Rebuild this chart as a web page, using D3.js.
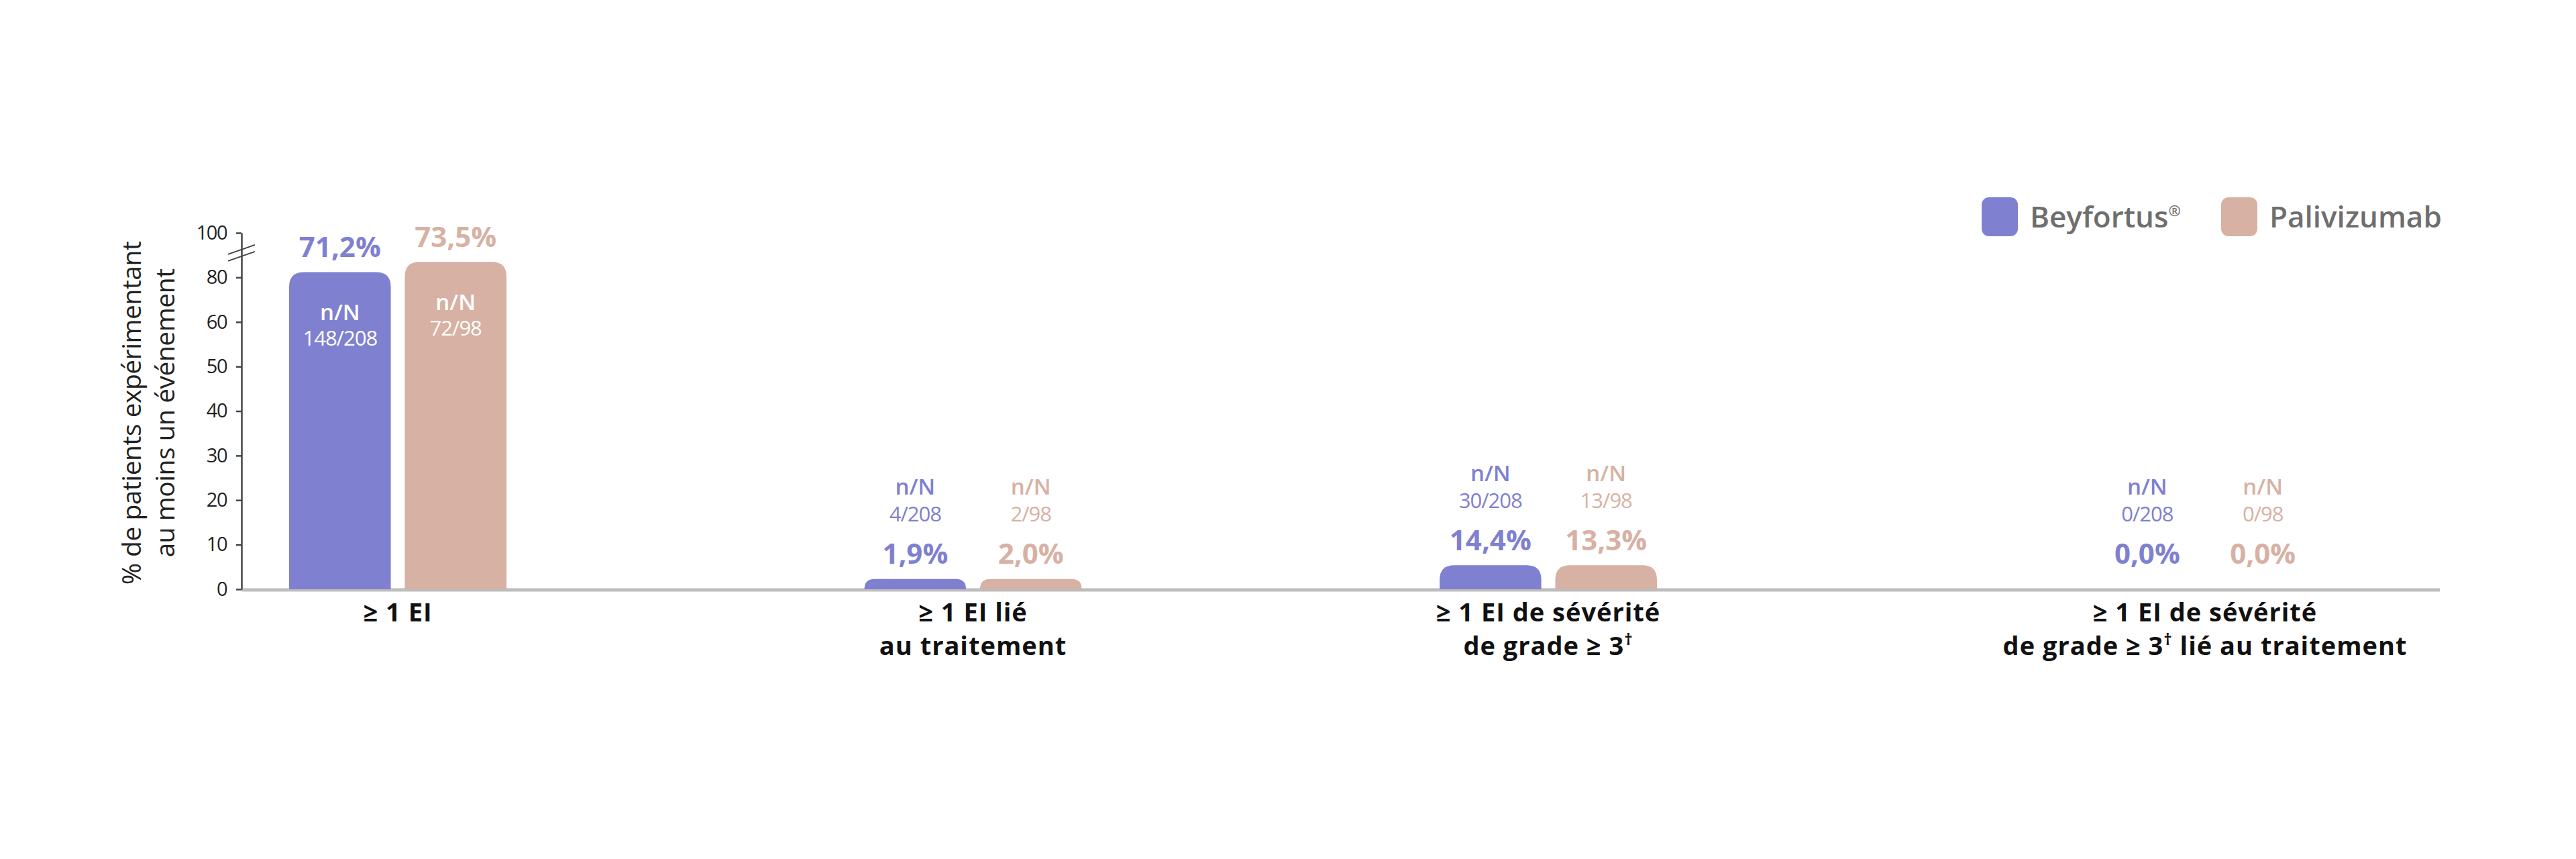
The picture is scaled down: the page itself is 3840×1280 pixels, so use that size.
<!DOCTYPE html>
<html>
<head>
<meta charset="utf-8">
<script src="https://cdn.jsdelivr.net/npm/d3@7"></script>
<style>
  html, body { margin: 0; padding: 0; background: #fff; }
  svg { display: block; font-family: "Open Sans", "Noto Sans", sans-serif; }
</style>
</head>
<body>
<svg id="chart"></svg>
<script>
// données
const categories = ["ei", "eiLie", "eiGrade3", "eiGrade3Lie"];
const categoryLabels = [
  ["≥ 1 EI"],
  ["≥ 1 EI lié", "au traitement"],
  ["≥ 1 EI de sévérité", "de grade ≥ 3†"],
  ["≥ 1 EI de sévérité", "de grade ≥ 3† lié au traitement"]
];
const series = ["Beyfortus", "Palivizumab"];
const seriesLabels = ["Beyfortus®", "Palivizumab"];
const beyfortusPct = [71.2, 1.9, 14.4, 0.0];
const palivizumabPct = [73.5, 2.0, 13.3, 0.0];
// hauteur des barres telle que dessinée sur la figure
const beyfortusBar = [71.2, 2.3, 5.4, 0];
const palivizumabBar = [73.5, 2.3, 5.4, 0];
const beyfortusN = ["148/208", "4/208", "30/208", "0/208"];
const palivizumabN = ["72/98", "2/98", "13/98", "0/98"];
const yTickValues = [0, 10, 20, 30, 40, 50, 60, 70, 80];
const yTickLabels = ["0", "10", "20", "30", "40", "50", "60", "80", "100"];
const yTitle = ["% de patients expérimentant", "au moins un événement"];

const colors = { Beyfortus: "#7f80d0", Palivizumab: "#d7b1a3" };

const W = 3840, H = 1280;
const axisX = 360, axisEnd = 3637;
const baseY = 878, topY = 347;

const svg = d3.select("#chart").attr("width", W).attr("height", H);

const fr = d3.formatLocale({ decimal: ",", thousands: " ", grouping: [3], currency: ["", "€"] });
const fmtPct = v => fr.format(".1f")(v) + "%";

// échelles
const y = d3.scaleLinear().domain([0, 80]).range([baseY, topY]);
const groupX = d3.scaleLinear().domain([0, 2, 3]).range([593, 2308, 3287]);
const inner = d3.scaleBand().domain(series).range([-162, 162]).paddingInner(0.121);

const rows = categories.map((c, i) => ({
  key: c,
  idx: i,
  lines: categoryLabels[i],
  values: [
    { s: "Beyfortus", pct: beyfortusPct[i], bar: beyfortusBar[i], n: beyfortusN[i] },
    { s: "Palivizumab", pct: palivizumabPct[i], bar: palivizumabBar[i], n: palivizumabN[i] }
  ]
}));

// ligne de base grise
svg.append("line")
  .attr("x1", axisX).attr("x2", axisEnd)
  .attr("y1", baseY + 1).attr("y2", baseY + 1)
  .attr("stroke", "#bdbdbd").attr("stroke-width", 5);

// axe y
const yAxis = d3.axisLeft(y)
  .tickValues(yTickValues)
  .tickFormat((d, i) => yTickLabels[i])
  .tickSize(8).tickSizeOuter(0).tickPadding(14);

const gy = svg.append("g")
  .attr("transform", `translate(${axisX},0)`)
  .call(yAxis);
gy.select(".domain").attr("stroke", "#444").attr("stroke-width", 2.5);
gy.selectAll(".tick line").attr("stroke", "#444").attr("stroke-width", 2.5);
gy.selectAll(".tick text")
  .attr("font-size", 29).attr("fill", "#222")
  .attr("font-family", "'Open Sans', sans-serif")
  .attr("letter-spacing", -1.5);

// coupure d'axe
const breakY = y(75.5);
[-5, 5].forEach(off => {
  svg.append("line")
    .attr("x1", axisX - 20).attr("y1", breakY + off + 7)
    .attr("x2", axisX + 20).attr("y2", breakY + off - 7)
    .attr("stroke", "#444").attr("stroke-width", 2);
});

// titre axe y
const yt = svg.append("text")
  .attr("transform", `translate(0,${(baseY + topY) / 2 + 3}) rotate(-90)`)
  .attr("text-anchor", "middle")
  .attr("font-size", 39).attr("fill", "#222")
  .attr("letter-spacing", -0.5);
yTitle.forEach((t, i) => {
  yt.append("tspan").attr("x", 0).attr("y", 210 + i * 50).text(t);
});

// barres
function barPath(x0, w, yTop, y0, r) {
  const h = y0 - yTop;
  if (h <= 0) return "";
  const rr = Math.min(r, h, w / 2);
  return `M${x0},${y0}V${yTop + rr}Q${x0},${yTop} ${x0 + rr},${yTop}` +
    `H${x0 + w - rr}Q${x0 + w},${yTop} ${x0 + w},${yTop + rr}V${y0}Z`;
}

const groups = svg.selectAll("g.grp").data(rows).join("g")
  .attr("class", "grp")
  .attr("transform", d => `translate(${groupX(d.idx)},0)`);

groups.selectAll("path.bar").data(d => d.values).join("path")
  .attr("class", "bar")
  .attr("fill", d => colors[d.s])
  .attr("d", d => barPath(inner(d.s), inner.bandwidth(), y(d.bar), baseY, 22));

// étiquettes de pourcentage
groups.selectAll("text.pct").data(d => d.values).join("text")
  .attr("class", "pct")
  .attr("x", d => inner(d.s) + inner.bandwidth() / 2)
  .attr("y", d => y(Math.max(d.bar, 2.4)) - 22)
  .attr("text-anchor", "middle")
  .attr("font-size", 42).attr("font-weight", 700)
  .attr("fill", d => colors[d.s])
  .text(d => fmtPct(d.pct));

// n/N : dans la barre si elle est haute, sinon au-dessus
groups.each(function (row) {
  const g = d3.select(this);
  row.values.forEach(v => {
    const cx = inner(v.s) + inner.bandwidth() / 2;
    const tall = v.bar > 20;
    const pctBase = y(Math.max(v.bar, 2.4)) - 22;
    const y1 = tall ? y(v.bar) + 72 : pctBase - 103;
    const y2 = tall ? y(v.bar) + 110 : pctBase - 63;
    const fill = tall ? "#fff" : colors[v.s];
    g.append("text").attr("x", cx).attr("y", y1)
      .attr("text-anchor", "middle").attr("font-size", 33).attr("font-weight", 600)
      .attr("fill", fill).text("n/N");
    g.append("text").attr("x", cx).attr("y", y2)
      .attr("text-anchor", "middle").attr("font-size", 31).attr("font-weight", 500)
      .attr("letter-spacing", -1)
      .attr("fill", fill).text(v.n);
  });
});

// étiquettes de catégories (avec † en exposant)
groups.each(function (row) {
  const t = d3.select(this).append("text")
    .attr("text-anchor", "middle")
    .attr("font-size", 38).attr("font-weight", 700).attr("fill", "#111")
    .attr("letter-spacing", 1);
  row.lines.forEach((line, li) => {
    const parts = line.split("†");
    parts.forEach((p, pi) => {
      const ts = t.append("tspan").text(p);
      if (pi === 0) ts.attr("x", 0).attr("y", 926 + li * 50);
      else ts.attr("dy", 15);
      if (pi < parts.length - 1) {
        t.append("tspan").attr("dy", -15).attr("font-size", 24).text("†");
      }
    });
  });
});

// légende
const legend = svg.append("g").attr("transform", "translate(2954,294)");
const legX = [0, 357];
series.forEach((s, i) => {
  const lg = legend.append("g").attr("transform", `translate(${legX[i]},0)`);
  lg.append("rect").attr("width", 54).attr("height", 58).attr("rx", 11)
    .attr("fill", colors[s]);
  const tx = lg.append("text").attr("x", 72).attr("y", 45)
    .attr("font-size", 44).attr("font-weight", 600).attr("fill", "#6e6e6e");
  const lab = seriesLabels[i];
  if (lab.endsWith("®")) {
    tx.append("tspan").text(lab.slice(0, -1));
    tx.append("tspan").attr("dy", -17).attr("font-size", 22).text("®");
  } else {
    tx.text(lab);
  }
});
</script>
</body>
</html>
